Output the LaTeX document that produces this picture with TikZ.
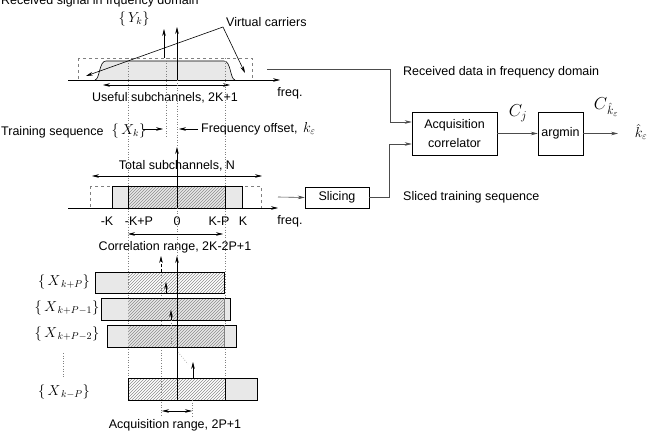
\documentclass[tikz,border=0pt]{standalone}
\usepackage{fontspec}
\setmainfont{Liberation Sans}
\usetikzlibrary{arrows.meta,patterns}
\begin{document}
\begin{tikzpicture}[x=1pt,y=-1pt,
  font=\fontsize{12.5}{15}\selectfont,
  >={Stealth[length=7pt,width=3.6pt]},
  ln/.style={line width=0.6pt},
  dotln/.style={dotted, gray, line width=0.6pt},
  dashbox/.style={dashed, gray, line width=0.6pt},
  stip/.style={fill=gray!18},
  hatch/.style={pattern=north east lines, pattern color=gray!90},
  blk/.style={draw, line width=0.5pt, inner sep=2pt, align=center},
  conn/.style={draw=black!70, line width=0.6pt},
  lbl/.style={inner sep=1pt},
  mth/.style={inner sep=1pt, font=\fontsize{14}{16}\selectfont}
]
\useasboundingbox (0,0) rectangle (651,436);

% ---------------- top section: received signal ----------------
\node[lbl, anchor=base west] (title) at (0,5) {Received signal in frquency domain};
\node[mth] (Yk) at (134,19) {$\{\,Y_k\}$};
\node[lbl, anchor=west] (virt) at (225,22) {Virtual carriers};
\coordinate (vc) at (223,27);

\draw[dashbox] (78,58) rectangle (252,80);
\draw[stip, ln] (95,80) .. controls (100,79) and (99,61) .. (106,61) -- (224,61)
   .. controls (231,61) and (230,79) .. (235,80);
\draw[->, ln] (68,80) -- (280,80);
\node[lbl] (freq1) at (290,93) {freq.};
\draw[<->, ln] (103,85) -- (230,85);
\node[lbl] (useful) at (165,98) {Useful subchannels, 2K+1};
\draw[->, ln] (vc) -- (86,76);
\draw[->, ln] (vc) -- (245,73);

% vertical guide lines
\draw[dotln] (128,58) -- (128,378);
\draw[dotln] (225,58) -- (225,378);
\draw[dotln] (166,58) -- (166,138);
\draw[->, ln] (164,58) -- (164,29);
\draw[->, ln] (177,80) -- (177,27);
\draw[dotln] (177,80) -- (177,147);

% ---------------- frequency offset ----------------
\node[lbl, anchor=west] (train) at (0,132) {Training sequence};
\node[mth] (Xk) at (129,131) {$\{\,X_k\}$};
\draw[->, ln] (143,129) -- (163,129);
\draw[->, ln] (198,129) -- (179,129);
\node[lbl, anchor=west] (foff) at (200,129) {Frequency offset,\, {\fontsize{14}{16}\selectfont$k_\varepsilon$}};

% ---------------- middle section: training sequence ----------------
\node[lbl] (total) at (177,166) {Total subchannels, N};
\draw[<->, ln] (92,176) -- (262,176);
\draw[dashbox] (90,186) rectangle (261,208);
\draw[stip, draw, line width=0.5pt] (112,186) rectangle (242,208);
\draw[hatch, draw, line width=0.5pt] (128,186) rectangle (225,208);
\draw[->, ln] (177,208) -- (177,147);
\draw[->, ln] (68,208) -- (278,208);
\node[lbl] (freq2) at (290,221) {freq.};
\node[lbl] (tK1) at (107,221) {-K};
\node[lbl] (tK2) at (139,221) {-K+P};
\node[lbl] (tK3) at (177,221) {0};
\node[lbl] (tK4) at (219,221) {K-P};
\node[lbl] (tK5) at (243,221) {K};
\draw[dotln] (177,208) -- (177,257);

% ---------------- correlation ----------------
\draw[<->, ln] (128,234) -- (223,234);
\node[lbl] (corr) at (175,247) {Correlation range, 2K-2P+1};
\draw[->, ln, densely dashed] (161,272) -- (161,256);
\draw[dotln] (161,272) -- (161,416);

% bars
\fill[stip] (95,272) rectangle (128,293);
\fill[hatch] (128,272) rectangle (224,293);
\draw[line width=0.5pt] (95,272) rectangle (224,293);

\fill[stip] (101,298) rectangle (230,320);
\fill[hatch] (128,298) rectangle (224,320);
\draw[line width=0.5pt] (101,298) rectangle (230,320);
\draw[line width=0.4pt, gray] (224,298) -- (224,320);

\fill[stip] (107,325) rectangle (236,347);
\fill[hatch] (128,325) rectangle (224,347);
\draw[line width=0.5pt] (107,325) rectangle (236,347);
\draw[line width=0.4pt, gray] (224,325) -- (224,347);

\fill[hatch] (128,378) rectangle (225,400);
\fill[stip] (225,378) rectangle (257,400);
\draw[line width=0.5pt] (128,378) rectangle (257,400);
\draw[line width=0.5pt] (225,378) -- (225,400);

\draw[->, ln] (177,400) -- (177,256);
\draw[->, ln] (166,293) -- (166,282);
\draw[->, ln] (171,320) -- (171,310);
\draw[dotln] (171,320) -- (171,345);
\draw[dotln] (178,352) -- (188,364);
\draw[->, ln] (193,378) -- (193,362);

\node[mth] (X1) at (64,282) {$\{\,X_{\,k+P}\}$};
\node[mth] (X2) at (67,308) {$\{\,X_{\,k+P-1}\}$};
\node[mth] (X3) at (67,334) {$\{\,X_{\,k+P-2}\}$};
\draw[dotln] (63,353) -- (63,378);
\node[mth] (X4) at (64,392) {$\{\,X_{\,k-P}\}$};

% acquisition range
\draw[dotln] (192,400) -- (192,416);
\draw[<->, ln] (162,411) -- (192,411);
\node[lbl] (acqr) at (175,425) {Acquisition range, 2P+1};

% ---------------- block diagram ----------------
\node[blk, minimum width=85pt, minimum height=43pt] (acq) at (454.5,133.5) {Acquisition\\[4pt]correlator};
\node[blk, minimum width=45pt, minimum height=43pt] (argmin) at (560.5,133.5) {argmin};
\node[blk, minimum width=64pt, minimum height=21pt] (slice) at (337,197.5) {Slicing};

\coordinate (rd0) at (267,69);
\coordinate (rd1) at (390,69);
\coordinate (rd2) at (390,122);
\coordinate (sl0) at (278,197);
\coordinate (sl1) at (389,197.5);
\coordinate (sl2) at (389,144);
\coordinate (out) at (618,133.5);

\draw[conn] (rd0) -- (rd1) -- (rd2);
\draw[conn, ->] (rd2) -- (rd2 -| acq.west);
\draw[conn, ->] (sl0) -- (slice.west);
\draw[conn] (slice.east) -- (sl1) -- (sl2);
\draw[conn, ->] (sl2) -- (sl2 -| acq.west);
\draw[conn, ->] (acq.east) -- (argmin.west);
\draw[conn, ->] (argmin.east) -- (out);

\node[lbl, anchor=west] (rdl) at (402,72) {Received data in frequency domain};
\node[lbl, anchor=west] (stl) at (402,197) {Sliced training sequence};
\node[lbl] (Cj) at (518,113) {\fontsize{17}{17}\selectfont$C_j$};
\node[lbl] (Ck) at (606,107) {{\fontsize{17}{17}\selectfont$C$}\raisebox{-5pt}{\fontsize{13}{13}\selectfont$\hat k_{\varepsilon}$}};
\node[mth] (kh) at (641,132) {$\hat k_\varepsilon$};
\end{tikzpicture}
\end{document}
